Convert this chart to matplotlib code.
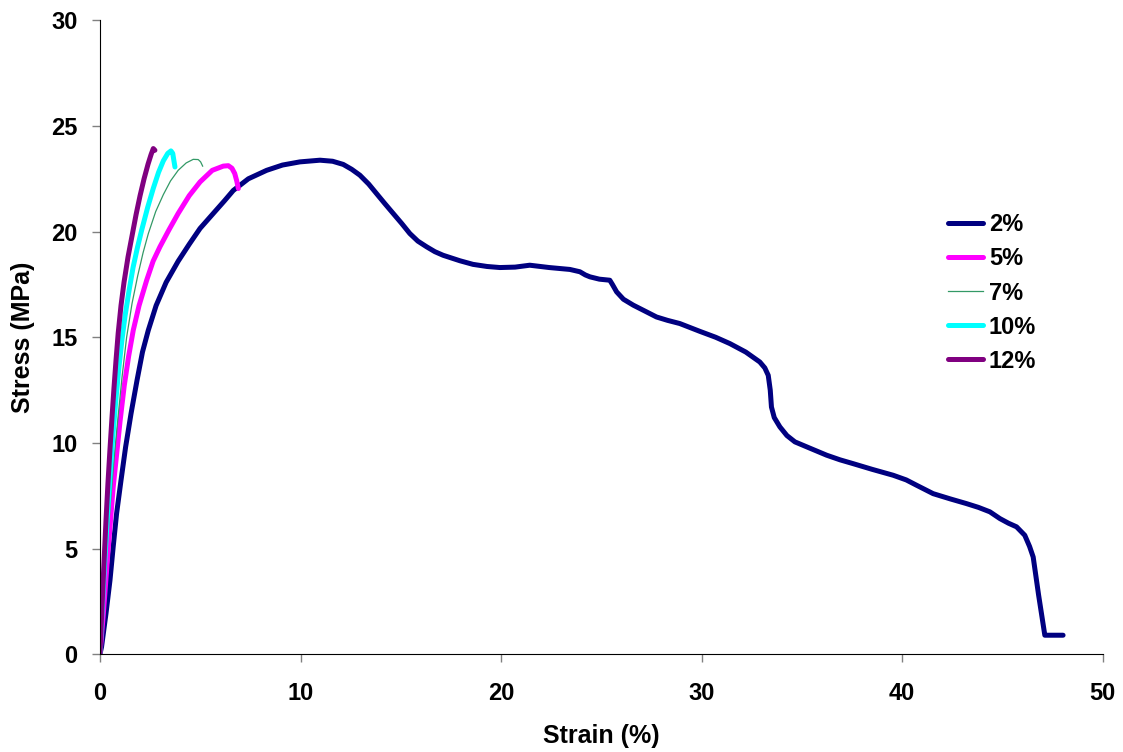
import matplotlib.pyplot as plt

plt.rcParams['font.family'] = ['Liberation Sans', 'DejaVu Sans']
plt.rcParams['font.weight'] = 'bold'

# strain (%) / stress (MPa)
x_2 = [0, 0.08, 0.3, 0.5, 0.66, 0.83, 1.05, 1.28, 1.55, 1.85, 2.12, 2.41,
       2.8, 3.3, 3.9, 4.45, 4.99, 5.65, 6.2, 6.65, 7.4, 8.31, 9.1, 9.97,
       10.97, 11.6, 12.13, 12.55, 12.96, 13.4, 13.79, 14.2, 14.62, 15.05,
       15.45, 15.85, 16.29, 16.7, 17.11, 17.95, 18.6, 19.3, 19.94, 20.7,
       21.43, 22.4, 23.43, 23.93, 24.2, 24.43, 24.9, 25.42, 25.55, 25.76,
       26.1, 26.59, 27.15, 27.75, 28.3, 28.91, 29.91, 30.7, 31.41, 32.2,
       32.9, 33.15, 33.32, 33.42, 33.48, 33.62, 33.9, 34.25, 34.65, 35.4,
       36.23, 36.9, 37.55, 38.5, 39.55, 40.2, 40.71, 41.54, 42.4, 43.2,
       43.8, 44.37, 44.87, 45.3, 45.7, 46.11, 46.35, 46.53, 46.8, 47.11,
       48.02]
y_2 = [0, 0.35, 1.92, 3.5, 5.08, 6.66, 8.23, 9.81, 11.39, 12.97, 14.3, 15.33,
       16.5, 17.6, 18.6, 19.4, 20.15, 20.86, 21.45, 21.95, 22.5, 22.9, 23.15,
       23.3, 23.38, 23.33, 23.18, 22.95, 22.67, 22.25, 21.8, 21.33, 20.86,
       20.38, 19.91, 19.55, 19.28, 19.05, 18.88, 18.62, 18.45, 18.35, 18.3,
       18.32, 18.41, 18.3, 18.21, 18.1, 17.95, 17.86, 17.75, 17.7, 17.5,
       17.15, 16.8, 16.52, 16.25, 15.96, 15.8, 15.65, 15.28, 15.0, 14.7,
       14.3, 13.83, 13.55, 13.2, 12.5, 11.7, 11.2, 10.76, 10.35, 10.05, 9.75,
       9.42, 9.2, 9.02, 8.75, 8.47, 8.25, 8.0, 7.6, 7.35, 7.13, 6.95, 6.74,
       6.42, 6.2, 6.03, 5.63, 5.1, 4.6, 2.8, 0.9, 0.9]

x_5 = [0, 0.17, 0.38, 0.66, 1.0, 1.21, 1.43, 1.66, 1.95, 2.33, 2.65, 2.99,
       3.45, 3.9, 4.45, 4.99, 5.6, 6.15, 6.4, 6.58, 6.72, 6.82, 6.9]
y_5 = [0, 1.92, 4.6, 7.9, 11.0, 12.7, 14.1, 15.33, 16.5, 17.7, 18.6, 19.28,
       20.1, 20.86, 21.7, 22.35, 22.9, 23.1, 23.12, 23.0, 22.75, 22.4, 22.04]

x_7 = [0, 0.15, 0.3, 0.5, 0.7, 0.9, 1.1, 1.33, 1.6, 1.88, 2.15, 2.41, 2.78,
       3.16, 3.52, 3.9, 4.3, 4.65, 4.9, 5.02, 5.12]
y_7 = [0, 2.2, 4.3, 6.9, 9.2, 11.2, 13.1, 15.0, 16.6, 17.9, 19.0, 19.9,
       20.95, 21.75, 22.4, 22.9, 23.25, 23.42, 23.41, 23.3, 23.1]

x_10 = [0, 0.1, 0.2, 0.35, 0.5, 0.65, 0.8, 0.95, 1.1, 1.25, 1.45, 1.65, 1.87,
        2.08, 2.38, 2.66, 2.92, 3.16, 3.38, 3.54, 3.63, 3.68, 3.74]
y_10 = [0, 1.9, 3.7, 6.2, 8.4, 10.4, 12.1, 13.6, 14.9, 16.0, 17.2, 18.3,
        19.25, 20.07, 21.15, 22.05, 22.8, 23.35, 23.7, 23.82, 23.7, 23.4,
        23.06]

x_12 = [0, 0.1, 0.2, 0.3, 0.4, 0.5, 0.6, 0.7, 0.8, 0.91, 1.05, 1.2, 1.4, 1.6,
        1.8, 2.0, 2.2, 2.4, 2.55, 2.66, 2.74]
y_12 = [0, 2.2, 4.3, 6.3, 8.1, 9.7, 11.2, 12.6, 13.9, 15.2, 16.5, 17.6, 18.8,
        19.8, 20.8, 21.7, 22.5, 23.2, 23.65, 23.93, 23.85]

fig = plt.figure(figsize=(11.23, 7.52), dpi=100)
ax = fig.add_axes([0.089, 0.130, 0.893, 0.843])

ax.plot(x_2, y_2, color='#000080', lw=3.6, label='2%', solid_capstyle='round')
ax.plot(x_5, y_5, color='#FF00FF', lw=3.6, label='5%', solid_capstyle='round')
ax.plot(x_7, y_7, color='#339966', lw=0.9, label='7%')
ax.plot(x_10, y_10, color='#00FFFF', lw=3.6, label='10%', solid_capstyle='round')
ax.plot(x_12, y_12, color='#800080', lw=3.6, label='12%', solid_capstyle='round')

ax.set_xlim(0, 50)
ax.set_ylim(0, 30)
ax.set_xticks(range(0, 51, 10))
ax.set_yticks(range(0, 31, 5))
ax.spines['top'].set_visible(False)
ax.spines['right'].set_visible(False)
ax.tick_params(direction='out', length=6, width=1, color='#808080',
               labelsize=17)
ax.tick_params(axis='x', pad=14)
ax.tick_params(axis='y', pad=10)
for lab in ax.get_xticklabels() + ax.get_yticklabels():
    lab.set_fontweight('bold')

ax.set_xlabel('Strain (%)', fontsize=18, fontweight='bold', labelpad=14)
ax.set_ylabel('Stress (MPa)', fontsize=18, fontweight='bold', labelpad=12)

leg = ax.legend(loc='upper left', bbox_to_anchor=(0.824, 0.729), frameon=False,
                fontsize=17, handlelength=1.5, labelspacing=0.47,
                handletextpad=0.25)
for t in leg.get_texts():
    t.set_fontweight('bold')

fig.savefig('out.png', dpi=100)
